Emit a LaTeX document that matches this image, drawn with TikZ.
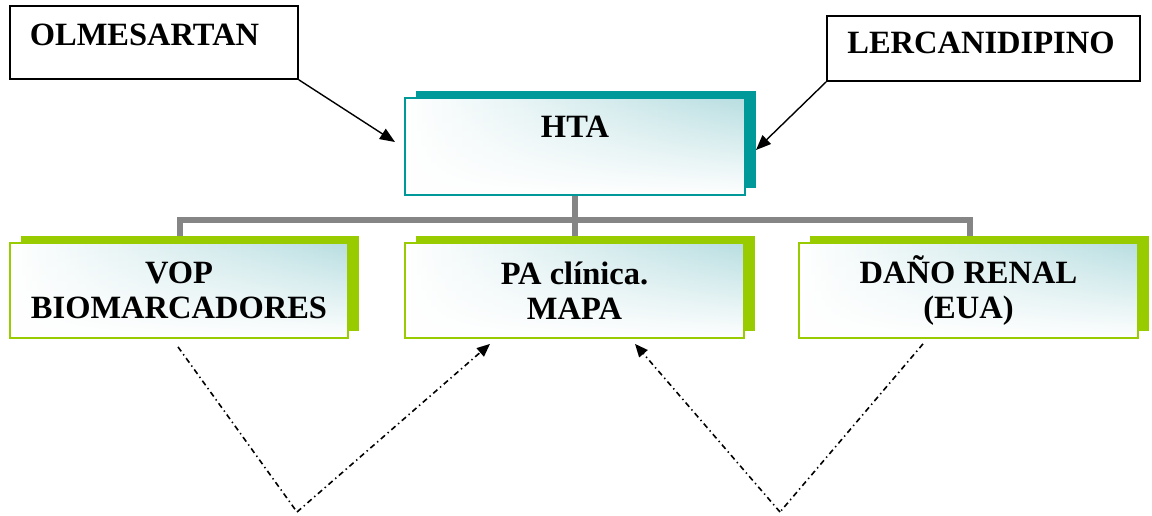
\documentclass[tikz,border=0pt]{standalone}
\usepackage{fontspec}
\setmainfont{Liberation Serif}
\usetikzlibrary{arrows.meta,shadows,fadings}
\definecolor{tealdk}{HTML}{009999}
\definecolor{greenlt}{HTML}{99CC00}
\definecolor{wash}{HTML}{B8DEE1}
\definecolor{busgray}{HTML}{858585}
\tikzfading[name=lowfade, top color=transparent!100, middle color=transparent!80, bottom color=transparent!0]
\pgfdeclarelayer{back}
\pgfsetlayers{back,main}
\tikzset{
  tagbox/.style={draw=black, line width=1.6pt, fill=white, inner sep=0pt},
  washbox/.style={inner sep=0pt, left color=white, right color=wash, draw=#1, line width=1.8pt,
    general shadow={fill=#1, shadow xshift=11pt, shadow yshift=7pt},
    postaction={fill=white, path fading=lowfade},
    postaction={draw=#1, line width=1.8pt}},
  txt/.style={font=\bfseries\fontsize{32.5}{35}\selectfont, align=center, inner sep=0pt},
  bus/.style={draw=busgray, line width=5.5pt},
  drug/.style={line width=1.4pt, -{Triangle[length=15pt,width=12pt]}},
  link/.style={line width=1.6pt, dash pattern=on 5.5pt off 3.5pt on 1.4pt off 3.5pt, -{Triangle[length=13pt,width=11pt]}},
  linkplain/.style={line width=1.6pt, dash pattern=on 5.5pt off 3.5pt on 1.4pt off 3.5pt}
}
\begin{document}
\begin{tikzpicture}[x=1pt,y=-1pt]
\useasboundingbox (0,0) rectangle (1152,515);

% drug boxes
\node[tagbox, minimum width=288pt, minimum height=73pt] (olm) at (154,42.5) {};
\node[txt, anchor=base] (olmText) at (144.5,45) {OLMESARTAN};
\node[tagbox, minimum width=313pt, minimum height=65pt] (lerc) at (983.5,48.5) {};
\node[txt, anchor=base] (lercText) at (981,53) {LERCANIDIPINO};

% central box
\node[washbox=tealdk, minimum width=340pt, minimum height=97pt] (hta) at (575,146.5) {};
\node[txt, anchor=base] (htaText) at (575,137) {HTA};

% lower boxes
\node[washbox=greenlt, txt, minimum width=338pt, minimum height=95pt] (vop) at (179,290.5) {VOP\\BIOMARCADORES};
\node[washbox=greenlt, txt, minimum width=339pt, minimum height=95pt] (pa) at (574.5,290.5) {PA clínica.\\MAPA};
\node[washbox=greenlt, txt, minimum width=339pt, minimum height=95pt] (dano) at (968.5,290.5) {DAÑO RENAL\\(EUA)};

% tree connectors behind the boxes
\begin{pgfonlayer}{back}
  \coordinate (busmid) at ([yshift=-24pt]hta.south);
  \draw[bus] (hta.south) -- (busmid);
  \draw[bus] (busmid) -| ([xshift=1pt]vop.north);
  \draw[bus] (busmid) -| ([xshift=0.5pt]pa.north);
  \draw[bus] (busmid) -| ([xshift=1.5pt]dano.north);
\end{pgfonlayer}

% drug arrows
\coordinate (olmTip) at (395,142);
\coordinate (lercTip) at (756,150);
\draw[drug] (olm.south east) -- (olmTip);
\draw[drug] (lerc.south west) -- (lercTip);

% dash-dotted links between the lower boxes
\coordinate (vopOut) at ([xshift=-1pt,yshift=-8pt]vop.south);
\coordinate (leftV) at (297,512);
\coordinate (paInL) at ([xshift=-84.5pt,yshift=-5pt]pa.south);
\coordinate (danoOut) at ([xshift=-45.5pt,yshift=-5pt]dano.south);
\coordinate (rightV) at (780,512);
\coordinate (paInR) at ([xshift=60.5pt,yshift=-5pt]pa.south);
\draw[linkplain] (vopOut) -- (leftV);
\draw[link] (leftV) -- (paInL);
\draw[linkplain] (danoOut) -- (rightV);
\draw[link] (rightV) -- (paInR);
\end{tikzpicture}
\end{document}
